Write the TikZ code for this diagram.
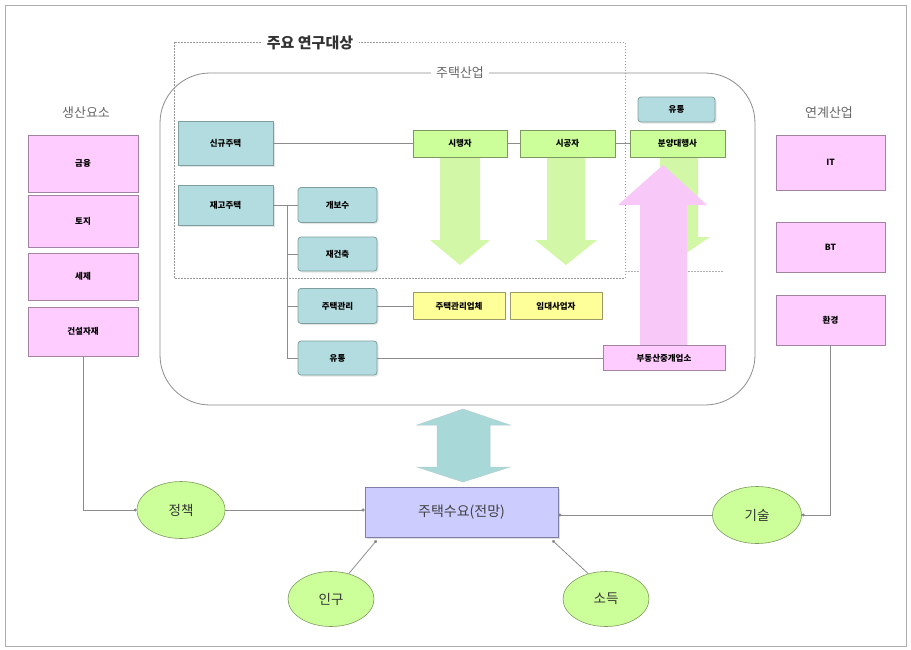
\documentclass[tikz,border=0pt]{standalone}
\usepackage{fontspec}
\setmainfont{Noto Sans CJK KR}
\usetikzlibrary{shapes.geometric,arrows.meta,shadows}
\definecolor{pinkf}{HTML}{FFCCFF}
\definecolor{pinkd}{HTML}{A383A3}
\definecolor{tealf}{HTML}{B2DCDF}
\definecolor{teald}{HTML}{7F9E9E}
\definecolor{greenf}{HTML}{CCFF99}
\definecolor{greend}{HTML}{7E9960}
\definecolor{yellowf}{HTML}{FFFF99}
\definecolor{yellowd}{HTML}{9A9A66}
\definecolor{lavf}{HTML}{CCCCFF}
\definecolor{lavd}{HTML}{7F7FA8}
\definecolor{arrowg}{HTML}{D2F7A6}
\definecolor{arrowp}{HTML}{F8C8F8}
\definecolor{arrowt}{HTML}{A8D8D8}
\definecolor{linec}{HTML}{8C8C8C}
\definecolor{headc}{HTML}{666666}
\begin{document}
\begin{tikzpicture}[x=1pt,y=-1pt,
  lbl/.style={font=\fontsize{8.5}{10}\selectfont\bfseries, text=black, inner sep=0pt},
  pbox/.style={lbl, rectangle, draw=pinkd, fill=pinkf, line width=0.8pt},
  tbox/.style={lbl, rectangle, rounded corners=3pt, draw=teald, fill=tealf, line width=0.8pt,
    drop shadow={shadow xshift=1.5pt, shadow yshift=-1.5pt, fill=black!20}},
  gbox/.style={lbl, rectangle, draw=greend, fill=greenf, line width=0.8pt},
  ybox/.style={lbl, rectangle, draw=yellowd, fill=yellowf, line width=0.8pt},
  ell/.style={ellipse, draw=greend, fill=greenf, line width=0.6pt, font=\fontsize{13.5}{15}\selectfont, text=black!80, inner sep=0pt},
  head/.style={font=\fontsize{13}{15}\selectfont, text=headc},
  conn/.style={draw=linec, line width=0.8pt},
  dotend/.style={conn, -{Circle[length=3pt,fill=black!70]}}
]
\useasboundingbox (0,0) rectangle (911,649);
\draw[linec!70, line width=0.8pt] (5,5) rectangle (906,646);

% dashed research box
\draw[linec!90, dash pattern=on 1.5pt off 1.5pt, line width=0.6pt] (174,42) rectangle (625,278);
\draw[linec!70, dash pattern=on 1.5pt off 1.5pt, line width=0.6pt] (625,271) -- (723,271);
\node[fill=white, font=\fontsize{15}{17}\selectfont\bfseries, text=black!80, inner xsep=6pt] (research) at (310,43) {주요 연구대상};

% housing industry rounded box
\draw[linec, line width=0.8pt, rounded corners=50pt] (160,73) rectangle (755,405);
\node[fill=white, head, inner xsep=5pt] (industry) at (460,73) {주택산업};

% big arrows (green down, pink up)
\fill[arrowg] (440,157) -- (480,157) -- (480,240) -- (490,240) -- (460,265) -- (430,240) -- (440,240) -- cycle;
\fill[arrowg] (547,157) -- (585,157) -- (585,240) -- (597,240) -- (566,265) -- (535,240) -- (547,240) -- cycle;
\fill[arrowg] (660,157) -- (698,157) -- (698,237) -- (710,237) -- (679,258) -- (648,237) -- (660,237) -- cycle;
\fill[arrowp] (640,345) -- (640,205) -- (618,205) -- (663,165) -- (707,205) -- (687,205) -- (687,345) -- cycle;

% left column
\node[head] (prodh) at (86,113) {생산요소};
\node[pbox, minimum width=110pt, minimum height=57pt] (fin) at (83,163.5) {금융};
\node[pbox, minimum width=110pt, minimum height=52pt] (land) at (83,221) {토지};
\node[pbox, minimum width=110pt, minimum height=47pt] (tax) at (83,276.5) {세제};
\node[pbox, minimum width=110pt, minimum height=49pt] (mat) at (83,331.5) {건설자재};

% right column
\node[head] (linkh) at (829,113) {연계산업};
\node[pbox, minimum width=109pt, minimum height=55pt] (it) at (830.5,162.5) {IT};
\node[pbox, minimum width=109pt, minimum height=50pt] (bt) at (830.5,247) {BT};
\node[pbox, minimum width=109pt, minimum height=50pt] (env) at (830.5,320) {환경};

% inside industry
\node[tbox, rounded corners=0pt, minimum width=95pt, minimum height=44pt] (new) at (225.5,143.5) {신규주택};
\node[tbox, rounded corners=0pt, minimum width=95pt, minimum height=40pt] (stock) at (225.5,205) {재고주택};
\node[tbox, minimum width=79pt, minimum height=35pt] (repair) at (337.5,205) {개보수};
\node[tbox, minimum width=79pt, minimum height=34pt] (rebuild) at (337.5,254) {재건축};
\node[tbox, minimum width=79pt, minimum height=35pt] (manage) at (337.5,306) {주택관리};
\node[tbox, minimum width=79pt, minimum height=34pt] (dist) at (337.5,358) {유통};

\node[gbox, minimum width=94pt, minimum height=27pt] (dev) at (460,143.5) {시행자};
\node[gbox, minimum width=95pt, minimum height=27pt] (con) at (567.5,143.5) {시공자};
\node[gbox, minimum width=95pt, minimum height=27pt] (sale) at (677.5,143.5) {분양대행사};
\node[tbox, minimum width=77pt, minimum height=25pt] (disttop) at (676.5,109.5) {유통};

\node[ybox, minimum width=92pt, minimum height=27pt] (mgco) at (459,306) {주택관리업체};
\node[ybox, minimum width=92pt, minimum height=27pt] (rent) at (556,306) {임대사업자};
\node[pbox, minimum width=122pt, minimum height=25pt] (broker) at (664,358) {부동산중개업소};

\draw[conn] (new.east) -- (dev.west);
\draw[conn] (dev.east) -- (con.west);
\draw[conn] (con.east) -- (sale.west);
\draw[conn] (stock.east) -- (repair.west);
\coordinate (bt0) at (287,205);
\draw[conn] (bt0) |- (dist.west);
\draw[conn] (bt0 |- rebuild.west) -- (rebuild.west);
\draw[conn] (bt0 |- manage.west) -- (manage.west);
\draw[conn] (manage.east) -- (mgco.west);
\draw[conn] (dist.east) -- (broker.west);

% double arrow
\draw[arrowt!80!black!60, line width=0.5pt, fill=arrowt] (437,425) -- (417,425) -- (463,409) -- (510,425) -- (490,425) -- (490,467) -- (510,467) -- (463,482) -- (417,467) -- (437,467) -- cycle;

% demand
\node[rectangle, draw=lavd, fill=lavf, line width=0.8pt, minimum width=193pt, minimum height=50pt,
  font=\fontsize{14}{16}\selectfont, text=black!75, drop shadow={shadow xshift=2pt, shadow yshift=-2pt, fill=black!25}] (demand) at (461.5,512) {주택수요(전망)};

\node[ell, minimum width=88pt, minimum height=57pt] (policy) at (181,510) {정책};
\node[ell, minimum width=89pt, minimum height=57pt] (tech) at (757,515) {기술};
\node[ell, minimum width=86pt, minimum height=55pt] (pop) at (331,599) {인구};
\node[ell, minimum width=86pt, minimum height=55pt] (inc) at (606,599) {소득};

\draw[dotend] (mat.south) |- (policy.west);
\draw[dotend] (env.south) |- (tech.east);
\draw[dotend] (policy.east) -- (policy.east -| demand.west);
\draw[dotend] (tech.west) -- (tech.west -| demand.east);
\coordinate (dl) at ([xshift=12pt,yshift=-3pt]demand.south west);
\coordinate (dr) at ([xshift=-6pt,yshift=-3pt]demand.south east);
\draw[dotend] (pop.55) -- (dl);
\draw[dotend] (inc.125) -- (dr);
\end{tikzpicture}
\end{document}
